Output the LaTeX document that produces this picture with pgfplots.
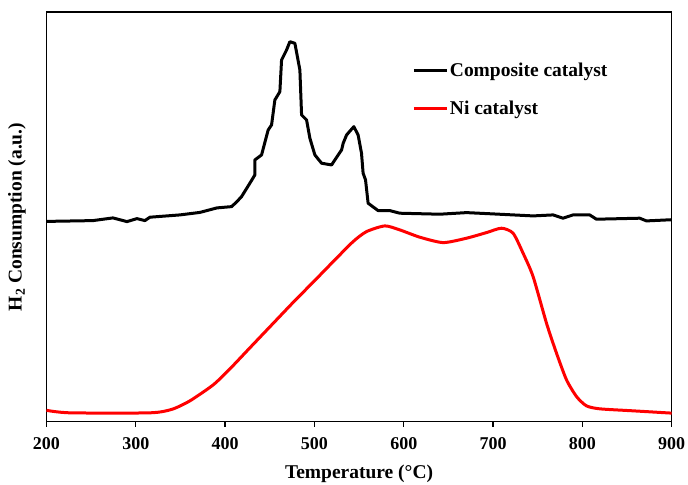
\documentclass[border=0pt]{standalone}
\usepackage{fontspec}
\setmainfont{Liberation Serif}
\usepackage{pgfplots}
\pgfplotsset{compat=1.18}
\begin{document}
\begin{tikzpicture}
\begin{axis}[
  name=ax,
  scale only axis,
  width=625.5bp, height=410bp,
  xmin=200, xmax=900, ymin=0, ymax=410,
  xtick={200,300,...,900},
  ytick=\empty,
  tick pos=lower,
  tick align=outside,
  major tick length=5bp,
  axis line style={line width=1.3bp},
  every tick/.style={black, line width=1.3bp},
  /pgf/number format/assume math mode=true,
  /pgf/number format/1000 sep={},
  xticklabel style={font=\fontsize{18bp}{20bp}\selectfont\bfseries, yshift=-7.5bp},
  xlabel={Temperature (°C)},
  xlabel style={font=\fontsize{19.5bp}{22bp}\selectfont\bfseries, at={(axis description cs:0.5,0)}, anchor=center, yshift=-52.5bp},
  ylabel={H\textsubscript{2} Consumption (a.u.)},
  ylabel style={font=\fontsize{19.5bp}{22bp}\selectfont\bfseries, at={(axis description cs:-0.0472,0.5)}, anchor=center},
  legend style={at={(axis description cs:0.585,0.812)}, anchor=west, draw=none, fill=none,
     font=\fontsize{19.5bp}{22bp}\selectfont\bfseries, inner xsep=0pt, inner ysep=0pt,
     row sep=19bp, nodes={inner xsep=1.5bp}},
  legend cell align=left,
  legend image code/.code={\draw[#1, line width=3bp] (0bp,0bp) -- (33bp,0bp);},
]
\addplot[black, line width=3bp, line join=round] coordinates {
(200,200.5) (252,201.3) (274.4,204) (290.1,200.3) (301.3,203.3) (310.2,201.3) (315.8,204.7)
(349.4,207) (371.8,209.5) (390.8,214) (407.3,215.3) (413.2,220.3) (418.4,225.3) (427.7,238.7)
(433.3,247) (433.3,262) (440.8,267) (448.2,292) (452.0,297) (455.7,322) (461.3,330.3)
(463.2,362) (468.8,372) (472.5,380.3) (478.1,378.7) (483.7,352) (485.6,307) (491.2,302)
(494.9,283.7) (500.5,267) (508.0,258.7) (519.2,257) (526.6,267) (530.4,272) (532.2,278.7)
(536.0,287) (544.1,295.3) (548.9,287) (552.7,268.7) (554.5,248.7) (557.2,242) (560.1,218.7)
(571.3,211.3) (584.4,211.3) (595.6,208.7) (640.4,207.7) (670.3,209.3) (700.0,208) (744.8,206)
(767.2,207) (778.4,203.7) (789.5,207) (808.2,207) (815.7,202.7) (864.2,203.7) (871.7,201) (900,202.2)
};
\addlegendentry{Composite catalyst}
\addplot[red, line width=3bp, smooth, tension=0.4] coordinates {
(200,11.5) (226.3,9) (315.8,9) (340.4,12.5) (360.6,21) (386.7,37) (405.4,53)
(427.7,74) (453.8,98.5) (476.2,119.5) (500.5,141.5) (521.0,160.3) (543.3,180.3) (558.3,190.3)
(578.8,196) (595.6,192) (618.0,184.7) (644.1,179.3) (670.3,183.7) (692.6,189.3) (709.4,193.7)
(722.4,188.7) (733.6,168.7) (744.8,145.3) (759.8,98.7) (771.0,68.7) (782.2,42) (793.4,25.3)
(804.5,16) (819.4,13) (856.7,11) (900,8.7)
};
\addlegendentry{Ni catalyst}
\end{axis}
\pgfresetboundingbox
\path[use as bounding box] ([xshift=-46.5bp,yshift=-62.3bp]ax.south west) rectangle ([xshift=16.3bp,yshift=12bp]ax.north east);
\end{tikzpicture}
\end{document}
